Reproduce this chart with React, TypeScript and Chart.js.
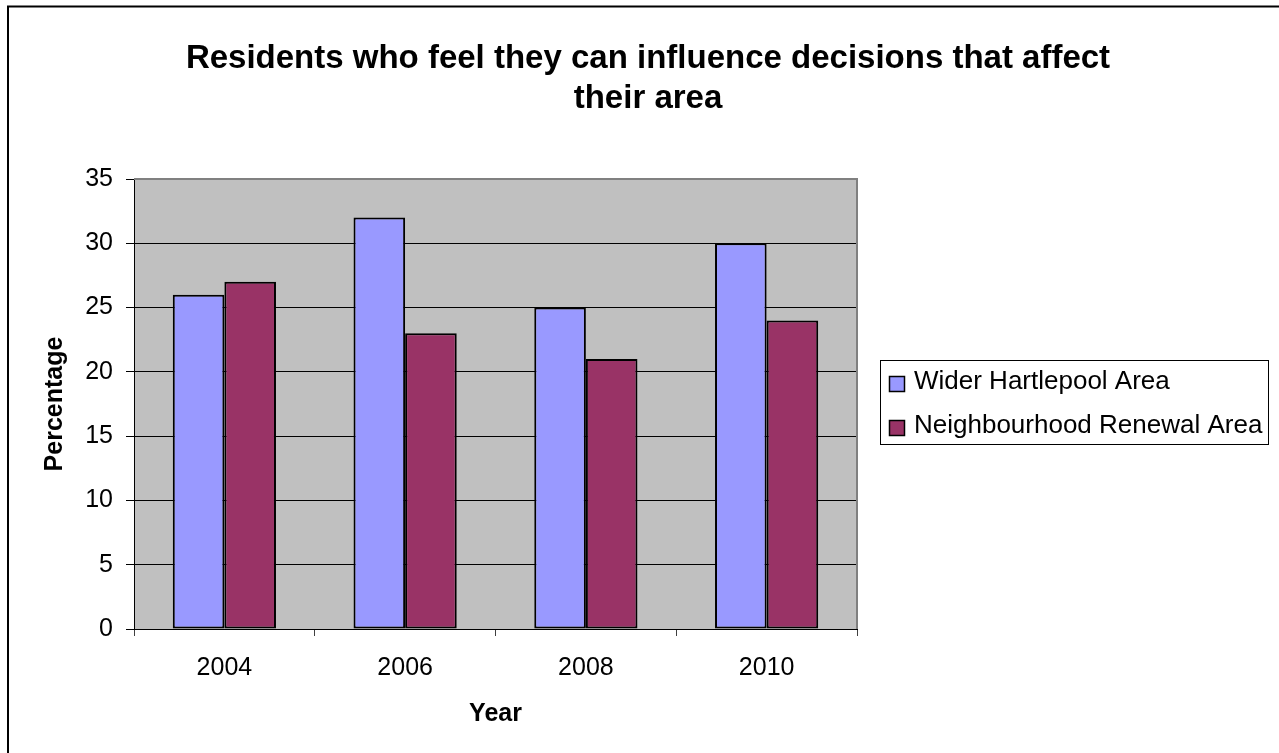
import React, { useEffect, useRef } from 'react';
import { Chart, registerables } from 'chart.js';

Chart.register(...registerables);

// ---- Chart content ----
const TITLE_LINES = ['Residents who feel they can influence decisions that affect', 'their area'];
const YEARS = ['2004', '2006', '2008', '2010'];
const WIDER_HARTLEPOOL = [26, 32, 25, 30];
const NEIGHBOURHOOD_RENEWAL = [27, 23, 21, 24];
const SERIES_NAMES = ['Wider Hartlepool Area', 'Neighbourhood Renewal Area'];
const SERIES_COLOURS = ['#9999FF', '#993366'];
const Y_AXIS_TITLE = 'Percentage';
const X_AXIS_TITLE = 'Year';
const Y_MIN = 0;
const Y_MAX = 35;
const Y_STEP = 5;

// ---- Layout / style ----
const WIDTH = 1279;
const HEIGHT = 753;
const FONT = "'Liberation Sans', Arial, Helvetica, sans-serif";
const PLOT_BG = '#C0C0C0';
const PLOT_FRAME = '#808080';

// Draws the outer chart border, plot background, plot frame, title and legend box.
const decorations = {
  id: 'decorations',
  beforeDraw(chart: any) {
    const { ctx, chartArea } = chart;
    ctx.save();
    ctx.fillStyle = '#FFFFFF';
    ctx.fillRect(0, 0, WIDTH, HEIGHT);

    // outer border (top and left edges fall inside the canvas)
    ctx.strokeStyle = '#000000';
    ctx.lineWidth = 2;
    ctx.beginPath();
    ctx.moveTo(8, HEIGHT + 10);
    ctx.lineTo(8, 6.5);
    ctx.lineTo(WIDTH + 10, 6.5);
    ctx.stroke();

    // plot background
    ctx.fillStyle = PLOT_BG;
    ctx.fillRect(chartArea.left, chartArea.top, chartArea.right - chartArea.left, chartArea.bottom - chartArea.top);
    ctx.restore();
  },
  beforeDatasetsDraw(chart: any) {
    const { ctx, chartArea } = chart;
    ctx.save();
    ctx.strokeStyle = PLOT_FRAME;
    ctx.lineWidth = 2;
    ctx.beginPath();
    ctx.moveTo(chartArea.left, chartArea.top);
    ctx.lineTo(chartArea.right, chartArea.top);
    ctx.lineTo(chartArea.right, chartArea.bottom);
    ctx.stroke();
    ctx.restore();
  },
  afterDraw(chart: any) {
    const { ctx } = chart;
    ctx.save();

    // title
    ctx.fillStyle = '#000000';
    ctx.font = `bold 33px ${FONT}`;
    ctx.textAlign = 'center';
    ctx.textBaseline = 'middle';
    TITLE_LINES.forEach((line, i) => ctx.fillText(line, 648, 59 + i * 40));

    // legend
    const boxLeft = 880;
    const boxTop = 360;
    const boxW = 388;
    const boxH = 84;
    ctx.strokeStyle = '#000000';
    ctx.lineWidth = 1;
    ctx.strokeRect(boxLeft + 0.5, boxTop + 0.5, boxW, boxH);

    ctx.font = `26px ${FONT}`;
    ctx.textAlign = 'left';
    ctx.textBaseline = 'middle';
    chart.data.datasets.forEach((ds: any, i: number) => {
      const cy = 382 + i * 44;
      ctx.fillStyle = ds.backgroundColor;
      ctx.fillRect(889, cy - 6, 16, 16);
      ctx.strokeStyle = '#000000';
      ctx.lineWidth = 1.5;
      ctx.strokeRect(889.5, cy - 5.5, 15, 15);
      ctx.fillStyle = '#000000';
      ctx.fillText(ds.label, 914, cy);
    });
    ctx.restore();
  },
};

export default function App() {
  const canvasRef = useRef<HTMLCanvasElement | null>(null);

  useEffect(() => {
    const canvas = canvasRef.current;
    if (!canvas) return;

    const barStyle = {
      borderColor: '#000000',
      borderWidth: 2,
      borderSkipped: false as const,
      categoryPercentage: 0.571,
      barPercentage: 1,
    };

    const chart = new Chart(canvas, {
      type: 'bar',
      data: {
        labels: YEARS,
        datasets: [
          { label: SERIES_NAMES[0], data: WIDER_HARTLEPOOL, backgroundColor: SERIES_COLOURS[0], ...barStyle },
          { label: SERIES_NAMES[1], data: NEIGHBOURHOOD_RENEWAL, backgroundColor: SERIES_COLOURS[1], ...barStyle },
        ],
      },
      plugins: [decorations],
      options: {
        responsive: false,
        animation: false,
        devicePixelRatio: 1,
        layout: { padding: { top: 179, right: 422, bottom: 0, left: 0 } },
        plugins: {
          legend: { display: false },
          title: { display: false },
          tooltip: { enabled: false },
        },
        scales: {
          x: {
            grid: {
              display: true,
              drawOnChartArea: false,
              drawTicks: true,
              tickLength: 7,
              tickColor: '#404040',
              offset: true,
            },
            border: { display: true, color: '#000000', width: 1 },
            ticks: {
              color: '#000000',
              font: { family: FONT, size: 25, lineHeight: 1.2 },
              padding: 17,
              maxRotation: 0,
            },
            title: {
              display: true,
              text: X_AXIS_TITLE,
              color: '#000000',
              font: { family: FONT, size: 25, weight: 'bold', lineHeight: 1.2 },
              padding: { top: 0, bottom: 24 },
            },
            afterFit: (scale: any) => {
              scale.height = 124;
            },
          },
          y: {
            min: Y_MIN,
            max: Y_MAX,
            grid: {
              color: (c: any) => (c.tick && c.tick.value === Y_MAX ? PLOT_FRAME : '#000000'),
              lineWidth: 1,
              drawTicks: true,
              tickLength: 8,
              tickColor: '#000000',
            },
            border: { display: true, color: '#000000', width: 1 },
            ticks: {
              stepSize: Y_STEP,
              color: '#000000',
              font: { family: FONT, size: 25, lineHeight: 1.2 },
              padding: 13,
            },
            title: {
              display: true,
              text: Y_AXIS_TITLE,
              color: '#000000',
              font: { family: FONT, size: 25, weight: 'bold', lineHeight: 1.2 },
              padding: { top: 40, bottom: 0 },
            },
            afterFit: (scale: any) => {
              scale.width = 134;
            },
          },
        },
      },
    });

    return () => chart.destroy();
  }, []);

  return (
    <div style={{ position: 'absolute', left: 0, top: 0, width: WIDTH, height: HEIGHT, background: '#FFFFFF' }}>
      <canvas ref={canvasRef} width={WIDTH} height={HEIGHT} style={{ display: 'block' }} />
    </div>
  );
}
